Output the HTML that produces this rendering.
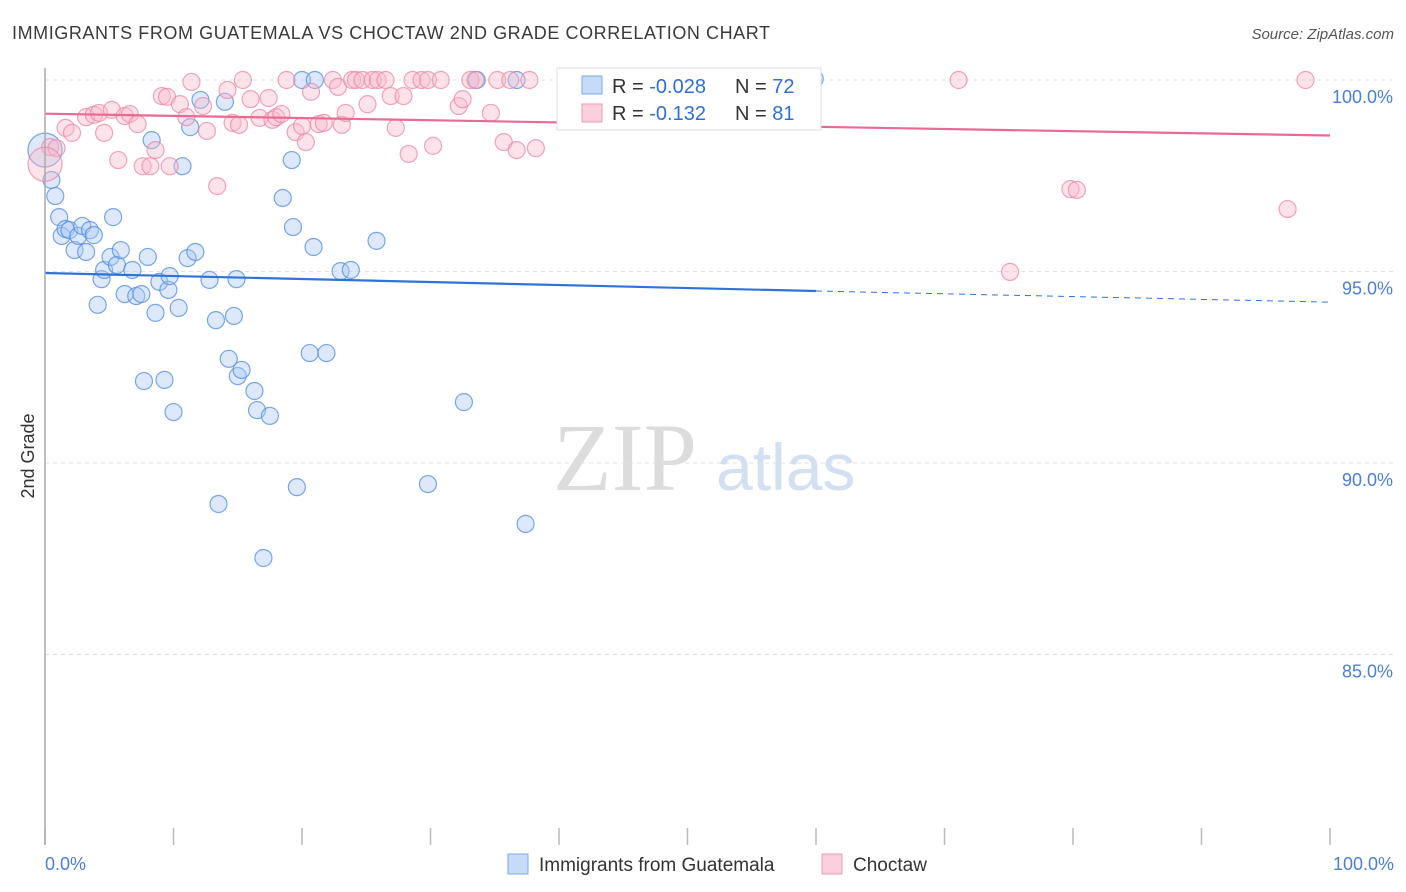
<!DOCTYPE html>
<html><head><meta charset="utf-8"><style>
body{margin:0;background:#fff;font-family:"Liberation Sans",sans-serif;}
#wrap{position:relative;width:1406px;height:892px;overflow:hidden;}
</style></head><body>
<div id="wrap">
<svg id="svg" width="1406" height="892" xmlns="http://www.w3.org/2000/svg">
<text x="12" y="39" font-size="18" fill="#3a3a3a" textLength="758">IMMIGRANTS FROM GUATEMALA VS CHOCTAW 2ND GRADE CORRELATION CHART</text>
<text x="1394" y="39" font-size="15" fill="#555" text-anchor="end" font-style="italic">Source: ZipAtlas.com</text>
<text x="34" y="456" font-size="18" fill="#333" text-anchor="middle" transform="rotate(-90 34 456)">2nd Grade</text>
<text x="553" y="490" font-size="96" fill="#dcdcdc" font-family="Liberation Serif,serif">ZIP</text>
<text x="716" y="490" font-size="66" fill="#d2e0f2">atlas</text>
<g id="grid"></g><g id="pts"></g><g id="lines"></g>
<line x1="45" y1="68" x2="45" y2="845" stroke="#aaa" stroke-width="1.5"/>
<g>
<rect x="557" y="68" width="264" height="62" fill="#fff" stroke="#ddd"/>
<rect x="582" y="76" width="20" height="18" fill="#c6dbf7" stroke="#7aa7e6"/>
<rect x="582" y="104" width="20" height="18" fill="#fbd0dc" stroke="#ef9ab2"/>
<text x="612" y="93" font-size="20" fill="#333">R = <tspan fill="#2f6fd6">-0.028</tspan></text>
<text x="735" y="93" font-size="20" fill="#333">N = <tspan fill="#2f6fd6">72</tspan></text>
<text x="612" y="120" font-size="20" fill="#333">R =  <tspan fill="#2f6fd6">-0.132</tspan></text>
<text x="735" y="120" font-size="20" fill="#333">N = <tspan fill="#2f6fd6">81</tspan></text>
</g>
<g>
<rect x="508" y="854" width="20" height="20" fill="#c6dbf7" stroke="#7aa7e6"/>
<text x="539" y="871" font-size="19" fill="#333">Immigrants from Guatemala</text>
<rect x="822" y="854" width="20" height="20" fill="#fbd0dc" stroke="#ef9ab2"/>
<text x="853" y="871" font-size="19" fill="#333">Choctaw</text>
</g>
<text x="45" y="870" font-size="18" fill="#4a7fd6">0.0%</text>
<text x="1394" y="870" font-size="18" fill="#4a7fd6" text-anchor="end">100.0%</text>
</svg>
</div>
<script>
const yTicks=[100,95,90,85];
const blueX=[0,0.5,0.8,1.1,1.3,1.6,1.9,2.3,2.6,2.9,3.2,3.5,3.8,4.1,4.4,4.6,5.1,5.3,5.6,5.9,6.2,6.8,7.1,7.5,7.7,8.0,8.3,8.6,8.9,9.3,9.6,9.7,10.0,10.4,10.7,11.1,11.3,11.7,12.1,12.8,13.3,13.5,14.0,14.3,14.7,15.0,15.3,14.9,16.3,16.5,17.0,17.5,18.5,19.2,19.3,19.6,20.0,20.6,21.0,20.9,21.9,23.0,23.8,25.8,29.8,32.6,33.6,36.7,37.4,59.9];
const blueY=[98.17,97.39,96.97,96.42,95.93,96.11,96.08,95.56,95.93,96.19,95.51,96.08,95.95,94.13,94.80,95.04,95.38,96.42,95.17,95.56,94.41,95.04,94.36,94.41,92.14,95.38,98.43,93.92,94.73,92.17,94.52,94.88,91.33,94.05,97.75,95.35,98.77,95.51,99.48,94.78,93.73,88.93,99.43,92.72,93.84,92.27,92.43,94.80,91.88,91.38,87.52,91.23,96.92,97.91,96.16,89.37,100,92.87,100,95.64,92.87,95.01,95.04,95.80,89.45,91.59,100,100,88.41,100.03];
const pinkX=[0.4,0.9,1.6,2.1,3.2,3.8,4.2,4.6,5.2,5.7,6.2,6.6,7.2,7.6,8.2,8.6,9.1,9.5,9.7,10.5,11.0,11.4,12.3,12.6,13.4,14.2,14.6,15.1,15.4,16.0,16.7,17.4,17.7,18.0,18.4,18.8,19.5,20.0,20.3,20.7,21.3,21.7,22.4,22.8,23.1,23.4,23.9,24.2,24.7,25.1,25.5,25.9,26.5,26.9,27.3,27.9,28.3,28.6,29.3,29.8,30.2,30.8,32.2,32.5,33.1,33.5,34.7,35.2,35.7,36.2,36.7,37.7,38.2,43.8,71.1,75.1,79.8,80.3,96.7,98.1];
const pinkY=[98.25,98.22,98.75,98.62,99.03,99.09,99.14,98.62,99.22,97.91,99.06,99.11,98.85,97.75,97.75,98.17,99.58,99.56,97.75,99.37,99.03,99.95,99.32,98.67,97.23,99.74,98.88,98.83,100,99.50,99.01,99.53,98.96,99.03,99.11,100,98.64,98.80,98.38,99.69,98.85,98.88,100,99.82,98.83,99.14,100,100,100,99.37,100,100,100,99.58,98.75,99.58,98.07,100,100,100,98.28,100,99.32,99.50,100,100,99.14,100,98.38,100,98.17,100,98.22,100,100,94.99,97.15,97.13,96.63,100];
const blueTrend=[94.96,94.49,94.2];
const pinkTrend=[99.12,98.55];
const X=v=>45+v*12.85, Y=v=>80+(100-v)*38.3;
const NS='http://www.w3.org/2000/svg';
function mk(t,a,p){const e=document.createElementNS(NS,t);for(const k in a)e.setAttribute(k,a[k]);document.getElementById(p).appendChild(e);return e;}
yTicks.forEach(t=>{
 const l=mk('line',{x1:45,x2:1394,y1:Y(t),y2:Y(t),stroke:'#e2e2e2','stroke-dasharray':'4,4'},'grid');
 
 
 const tx=mk('text',{x:1393,y:Y(t)+23,'font-size':18,fill:'#4a7fd6','text-anchor':'end'},'grid');tx.textContent=t.toFixed(1)+'%';
 
 
});
for(let i=0;i<=10;i++){const l=mk('line',{x1:X(i*10),x2:X(i*10),y1:828,y2:845,stroke:'#bbb','stroke-width':1.5},'grid');
 
 }
function dots(xs,ys,fill,stroke,name){xs.forEach((x,i)=>{const c=mk('circle',{cx:X(x),cy:Y(ys[i]),r:(x===0?17:8.5),fill:fill,'fill-opacity':0.4,stroke:stroke,'stroke-width':1.2,'stroke-opacity':0.75},'pts');
 
 });}
dots(blueX,blueY,'#a9c8f2','#4f8ae0','point-guatemala');
dots(pinkX,pinkY,'#f7b9cb','#eb86a4','point-choctaw');
dots([0],[97.8],'#f7b9cb','#eb86a4','point-choctaw');
let l=mk('line',{x1:X(0),y1:Y(blueTrend[0]),x2:X(60),y2:Y(blueTrend[1]),stroke:'#2f73d8','stroke-width':2.2},'lines');


l=mk('line',{x1:X(60),y1:Y(blueTrend[1]),x2:X(100),y2:Y(blueTrend[2]),stroke:'#2f73d8','stroke-width':1,'stroke-dasharray':'6,5'},'lines');


l=mk('line',{x1:X(0),y1:Y(pinkTrend[0]),x2:X(100),y2:Y(pinkTrend[1]),stroke:'#e96a92','stroke-width':2.2},'lines');


</script>
</body></html>
